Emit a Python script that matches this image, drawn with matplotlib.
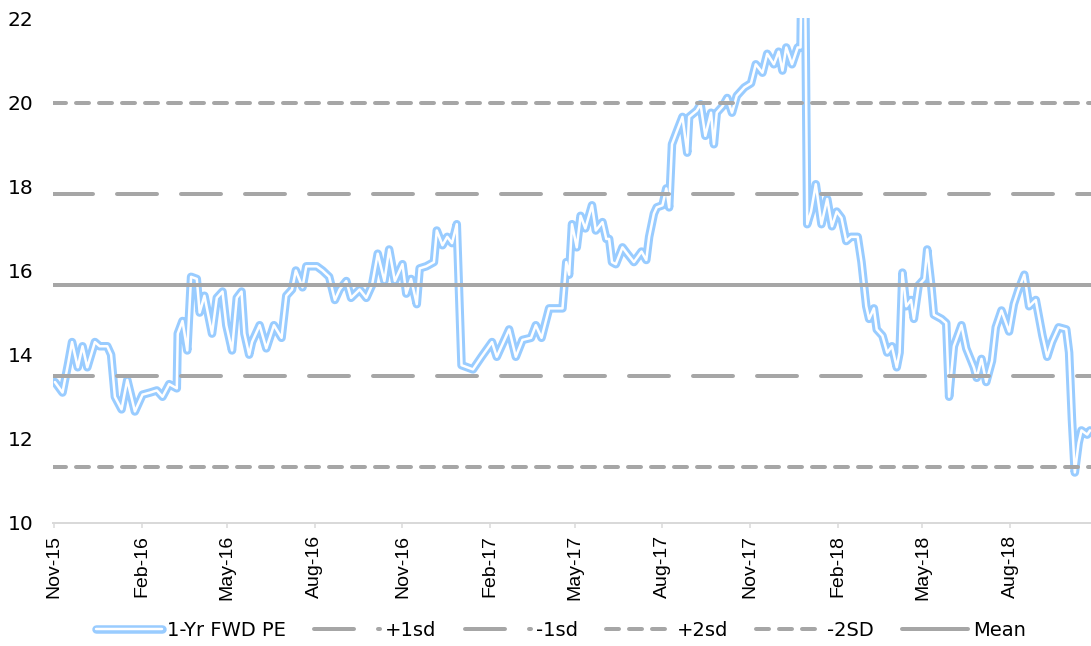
import matplotlib
matplotlib.use("Agg")
import matplotlib.pyplot as plt
import pandas as pd
from matplotlib.legend_handler import HandlerTuple

dates = ["2015-11-02","2015-11-10","2015-11-16","2015-11-20","2015-11-26","2015-12-01","2015-12-06","2015-12-14",
"2015-12-19","2015-12-27","2015-12-31","2016-01-04","2016-01-11","2016-01-17","2016-01-25","2016-02-02",
"2016-02-10","2016-02-17","2016-02-23","2016-03-01","2016-03-09","2016-03-10","2016-03-15","2016-03-20",
"2016-03-24","2016-03-30","2016-04-02","2016-04-07","2016-04-15","2016-04-20","2016-04-26","2016-04-30",
"2016-05-06","2016-05-11","2016-05-16","2016-05-19","2016-05-24","2016-05-27","2016-06-04","2016-06-11",
"2016-06-19","2016-06-27","2016-07-02","2016-07-08","2016-07-12","2016-07-19","2016-07-23","2016-08-03",
"2016-08-09","2016-08-16","2016-08-22","2016-08-27","2016-09-03","2016-09-08","2016-09-17","2016-09-24",
"2016-09-30","2016-10-06","2016-10-13","2016-10-18","2016-10-24","2016-11-01","2016-11-05","2016-11-10",
"2016-11-16","2016-11-19","2016-11-26","2016-12-04","2016-12-07","2016-12-13","2016-12-18","2016-12-23",
"2016-12-28","2017-01-02","2017-01-08","2017-01-14","2017-01-23","2017-02-03","2017-02-08","2017-02-16",
"2017-02-21","2017-02-28","2017-03-07","2017-03-16","2017-03-21","2017-03-27","2017-04-04","2017-04-18",
"2017-04-22","2017-04-25","2017-04-28","2017-05-03","2017-05-07","2017-05-12","2017-05-19","2017-05-23",
"2017-05-30","2017-06-03","2017-06-06","2017-06-09","2017-06-13","2017-06-20","2017-06-25","2017-07-02",
"2017-07-10","2017-07-15","2017-07-18","2017-07-23","2017-07-26","2017-08-01","2017-08-05","2017-08-08",
"2017-08-11","2017-08-16","2017-08-22","2017-08-27","2017-08-29","2017-09-06","2017-09-10","2017-09-15",
"2017-09-21","2017-09-24","2017-09-27","2017-10-03","2017-10-08","2017-10-13","2017-10-18","2017-10-26",
"2017-11-02","2017-11-07","2017-11-14","2017-11-19","2017-11-26","2017-12-01","2017-12-05","2017-12-09",
"2017-12-15","2017-12-21","2017-12-24","2017-12-26","2017-12-28","2017-12-31","2018-01-04","2018-01-09",
"2018-01-15","2018-01-21","2018-01-26","2018-01-31","2018-02-05","2018-02-10","2018-02-15","2018-02-22",
"2018-02-26","2018-03-03","2018-03-06","2018-03-11","2018-03-14","2018-03-20","2018-03-25","2018-03-30",
"2018-04-04","2018-04-07","2018-04-10","2018-04-14","2018-04-19","2018-04-22","2018-04-27","2018-05-03",
"2018-05-06","2018-05-10","2018-05-13","2018-05-21","2018-05-26","2018-05-29","2018-06-03","2018-06-11",
"2018-06-16","2018-06-24","2018-06-27","2018-07-02","2018-07-07","2018-07-13","2018-07-17","2018-07-23",
"2018-07-31","2018-08-05","2018-08-10","2018-08-16","2018-08-21","2018-08-28","2018-09-04","2018-09-09",
"2018-09-14","2018-09-21","2018-09-29","2018-10-02","2018-10-05","2018-10-08","2018-10-12","2018-10-15",
"2018-10-21","2018-10-24"]

pe = [13.35,13.1,13.8,14.3,13.7,14.2,13.7,14.3,
14.2,14.2,14.0,13.0,12.7,13.4,12.65,13.05,
13.1,13.15,13.0,13.3,13.2,14.5,14.8,14.1,
15.85,15.8,15.0,15.4,14.5,15.35,15.5,14.7,
14.1,15.35,15.5,14.5,14.0,14.3,14.7,14.15,
14.7,14.4,15.4,15.55,16.0,15.6,16.1,16.1,
16.0,15.85,15.3,15.55,15.75,15.35,15.55,15.35,
15.65,16.4,15.75,16.5,15.75,16.15,15.45,15.8,
15.2,16.05,16.1,16.2,16.95,16.6,16.8,16.65,
17.1,13.75,13.7,13.65,13.95,14.3,13.95,14.35,
14.6,13.95,14.35,14.4,14.7,14.4,15.1,15.1,
16.2,15.9,17.1,16.55,17.3,17.0,17.55,16.95,
17.15,16.75,16.75,16.2,16.15,16.55,16.4,16.2,
16.45,16.25,16.8,17.35,17.5,17.55,17.95,17.5,
19.0,19.3,19.65,18.8,19.65,19.8,19.95,19.2,
19.75,19.0,19.75,19.9,20.1,19.75,20.15,20.35,
20.45,20.9,20.7,21.15,20.9,21.2,20.75,21.3,
20.9,21.3,21.3,25.0,25.0,17.1,17.4,18.05,
17.1,17.7,17.05,17.4,17.25,16.7,16.8,16.8,
16.2,15.15,14.85,15.1,14.6,14.45,14.05,14.2,
13.7,14.05,15.95,15.15,15.3,14.85,15.65,15.8,
16.5,15.7,14.95,14.85,14.75,13.0,14.2,14.7,
14.15,13.7,13.45,13.9,13.35,13.85,14.65,15.05,
14.55,15.2,15.55,15.9,15.15,15.3,14.45,13.95,
14.3,14.65,14.6,14.05,12.45,11.2,11.9,12.2,
12.1,12.2]

band_labels = ["+1sd", "-1sd", "+2sd", "-2SD", "Mean"]
band_values = [17.82, 13.50, 19.98, 11.34, 15.66]
y_ticks = [10, 12, 14, 16, 18, 20, 22]
x_tick_labels = ["Nov-15","Feb-16","May-16","Aug-16","Nov-16","Feb-17","May-17",
                 "Aug-17","Nov-17","Feb-18","May-18","Aug-18"]

plt.rcParams['lines.scale_dashes'] = False
DPI = 100
W, H = 1091, 646
px = 72 / DPI
fig = plt.figure(figsize=(W / DPI, H / DPI), dpi=DPI)
ax = fig.add_axes([53 / W, 1 - 523 / H, 1 - 53 / W, (523 - 18) / H])

x = pd.to_datetime(dates)
BLUE = "#99CCFF"
GRAY = "#A6A6A6"

l_blue, = ax.plot(x, pe, color=BLUE, lw=8.5 * px, solid_joinstyle='round', solid_capstyle='round', zorder=2)
l_white, = ax.plot(x, pe, color="white", lw=2.5 * px, solid_joinstyle='round', solid_capstyle='round', zorder=3)

long_dash = (0, (40 * px, 24 * px))
short_dash = (0, (13 * px, 10 * px))
styles = {"+1sd": long_dash, "-1sd": long_dash, "+2sd": short_dash, "-2SD": short_dash, "Mean": '-'}
band_handles = []
for lab, val in zip(band_labels, band_values):
    h = ax.axhline(val, color=GRAY, lw=4 * px, linestyle=styles[lab],
                   dash_capstyle='round', solid_capstyle='round', zorder=4)
    band_handles.append(h)

ax.set_ylim(10, 22)
ax.set_yticks(y_ticks)
ax.set_yticklabels([str(v) for v in y_ticks], fontsize=14.5, family="DejaVu Sans")
ax.tick_params(axis='y', length=0, pad=14)

start = pd.Timestamp("2015-11-01")
end = pd.Timestamp("2018-10-25")
ax.set_xlim(start - pd.Timedelta(days=1), end)
tick_pos = pd.date_range("2015-11-01", periods=len(x_tick_labels), freq="3MS")
ax.set_xticks(tick_pos)
ax.set_xticklabels(x_tick_labels, rotation=90, fontsize=14, family="Liberation Sans")
ax.tick_params(axis='x', length=5 * px, width=1.5 * px, color="#D9D9D9", pad=5, direction='out')

for s in ["top", "right", "left"]:
    ax.spines[s].set_visible(False)
ax.spines["bottom"].set_color("#D9D9D9")
ax.spines["bottom"].set_linewidth(2 * px)

handles = [(l_blue, l_white)] + band_handles
labels = ["1-Yr FWD PE"] + band_labels
fs_px = 14 / 72 * DPI
leg = fig.legend(handles, labels, loc="center", bbox_to_anchor=(561 / W, 16 / H), ncol=6,
                 frameon=False, prop={"family": "DejaVu Sans", "size": 14},
                 handlelength=66 / fs_px, handletextpad=5 / fs_px, columnspacing=28 / fs_px,
                 handler_map={tuple: HandlerTuple(ndivide=1, pad=0)}, borderpad=0)

fig.savefig("out.png", dpi=DPI)
